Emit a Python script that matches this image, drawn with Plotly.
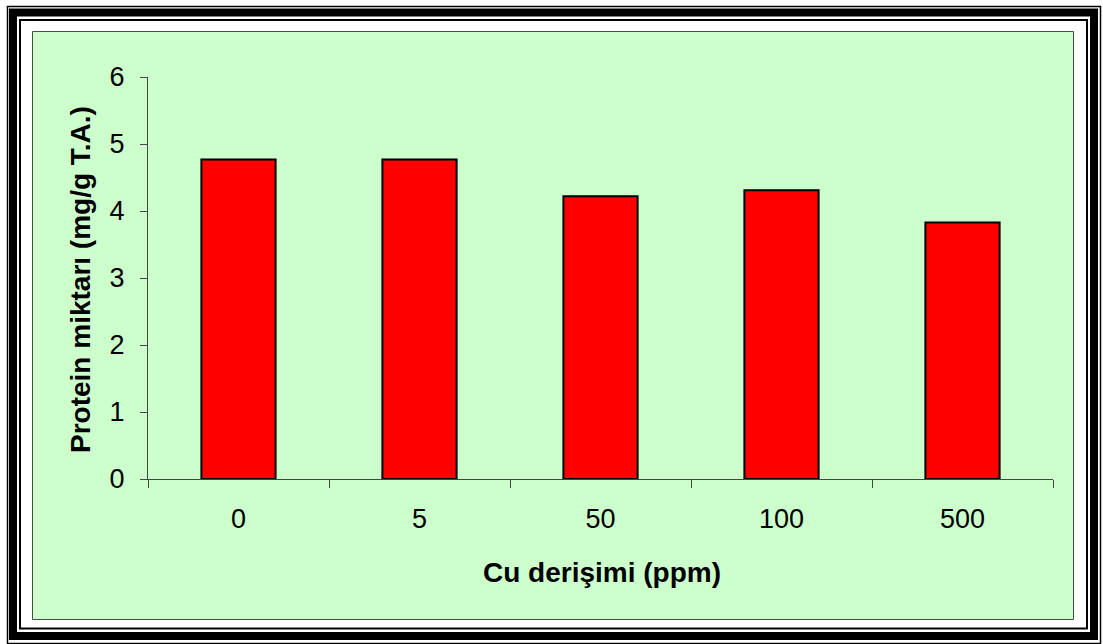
import plotly.graph_objects as go

categories = ["0", "5", "50", "100", "500"]
protein = [4.77, 4.77, 4.22, 4.31, 3.83]
y_ticks = [0, 1, 2, 3, 4, 5, 6]
x_title = "Cu derişimi (ppm)"
y_title = "Protein miktarı (mg/g T.A.)"

W, H = 1103, 644
L, R, T, B = 148, 50, 77, 165
PW, PH = W - L - R, H - T - B


def px(x):
    return (x - L) / PW


def py(y):
    return 1 - (y - T) / PH


fig = go.Figure(
    go.Bar(
        x=categories,
        y=protein,
        marker=dict(color="#FF0000", line=dict(color="#000000", width=2)),
        width=0.41,
    )
)

font_family = "Liberation Sans, Arial, sans-serif"

shapes = [
    # green panel
    dict(type="rect", xref="paper", yref="paper", x0=px(32.5), x1=px(1073.5), y0=py(619.5), y1=py(31.5),
         fillcolor="#CCFFCC", line=dict(color="#4a4a4a", width=1), layer="below"),
    # outer thin line
    dict(type="rect", xref="paper", yref="paper", x0=px(7.5), x1=px(1100.5), y0=py(643.5), y1=py(6.5),
         line=dict(color="black", width=1.5), layer="above"),
    # thick frame
    dict(type="rect", xref="paper", yref="paper", x0=px(13), x1=px(1094), y0=py(636), y1=py(12.5),
         line=dict(color="black", width=8), layer="above"),
    # inner thin line
    dict(type="rect", xref="paper", yref="paper", x0=px(20), x1=px(1087), y0=py(628.5), y1=py(20),
         line=dict(color="black", width=2), layer="above"),
]

annotations = [
    dict(text="<b>%s</b>" % x_title, xref="paper", yref="paper", x=px(602), y=py(572),
         xanchor="center", yanchor="middle", showarrow=False,
         font=dict(size=28, family=font_family, color="black")),
    dict(text="<b>%s</b>" % y_title, xref="paper", yref="paper", x=px(80), y=py(280),
         xanchor="center", yanchor="middle", showarrow=False, textangle=-90,
         font=dict(size=28, family=font_family, color="black")),
]

fig.update_layout(
    width=W,
    height=H,
    margin=dict(l=L, r=R, t=T, b=B, autoexpand=False),
    paper_bgcolor="white",
    plot_bgcolor="rgba(0,0,0,0)",
    showlegend=False,
    shapes=shapes,
    annotations=annotations,
    font=dict(family=font_family, color="black"),
    xaxis=dict(
        type="category",
        showline=True,
        linecolor="#444444",
        linewidth=1,
        ticks="outside",
        tickson="boundaries",
        ticklen=8,
        tickcolor="#444444",
        tickfont=dict(size=27, family=font_family),
        ticklabelstandoff=16,
        showgrid=False,
        zeroline=False,
    ),
    yaxis=dict(
        range=[0, 6],
        tickvals=y_ticks,
        showline=True,
        linecolor="#444444",
        linewidth=1,
        ticks="outside",
        ticklen=7,
        tickcolor="#444444",
        tickfont=dict(size=27, family=font_family),
        ticklabelstandoff=10,
        showgrid=False,
        zeroline=False,
    ),
)

fig.write_html("out.html")
